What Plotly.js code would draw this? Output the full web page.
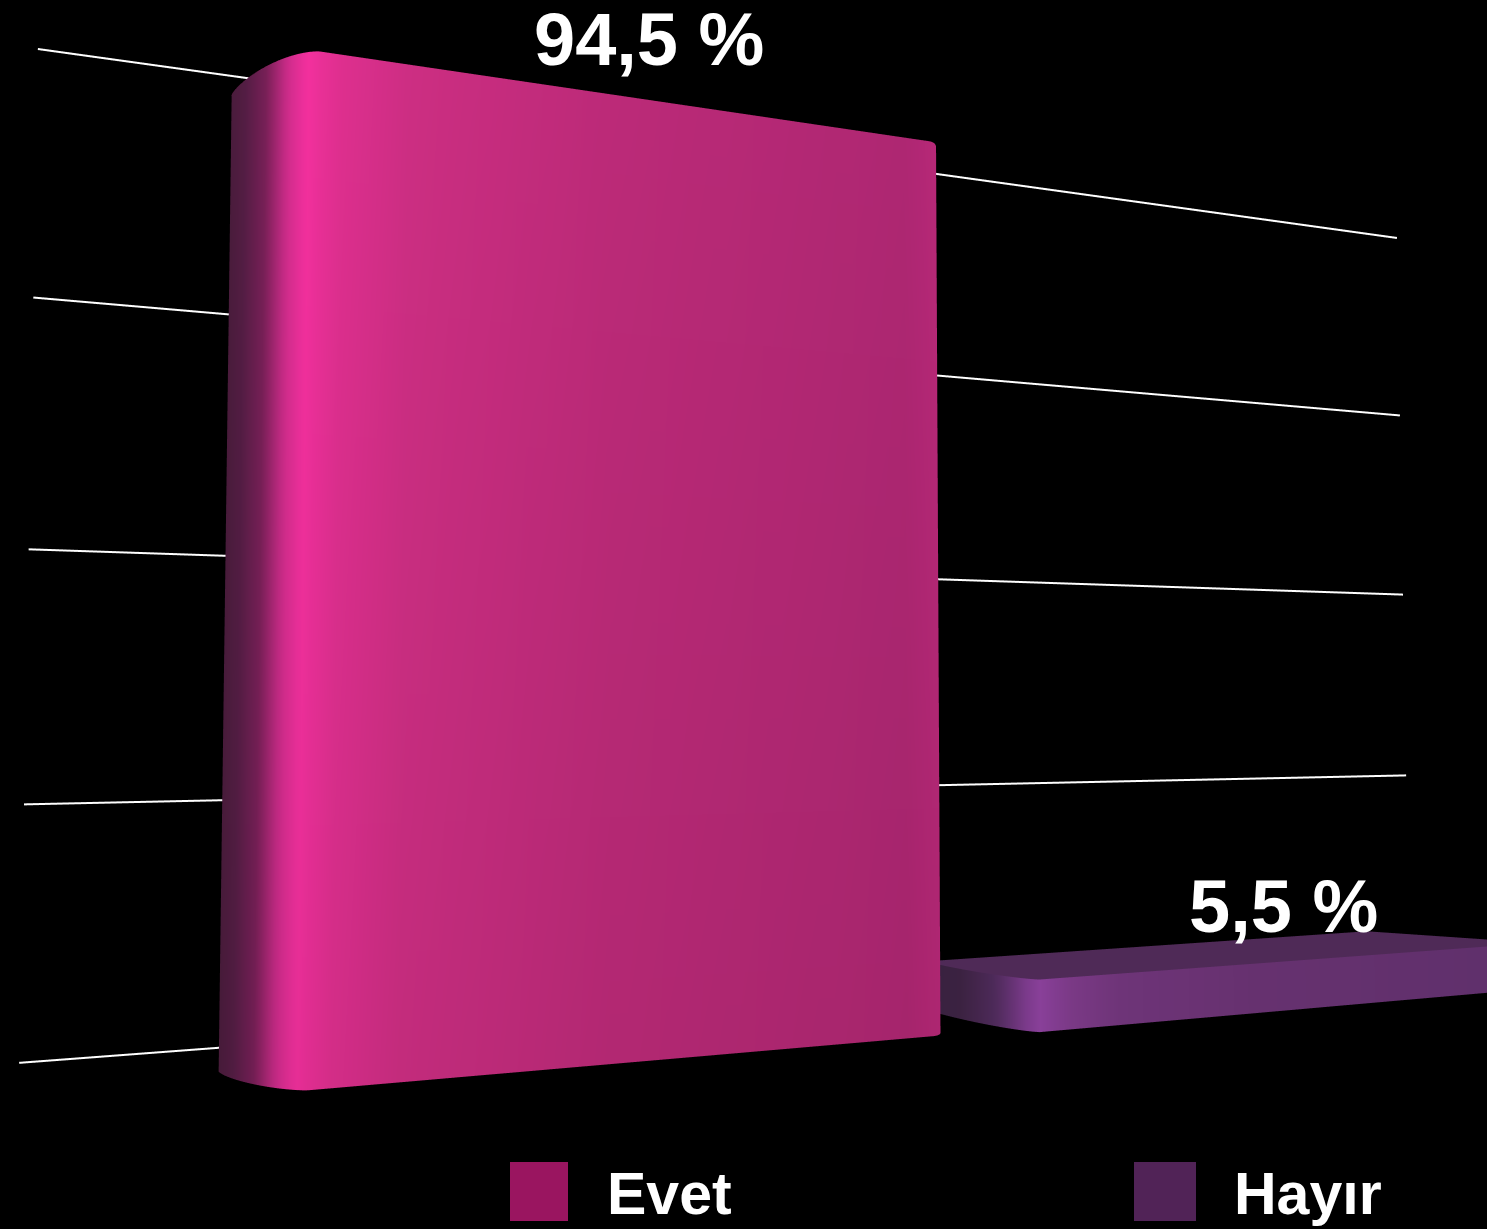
<!DOCTYPE html>
<html><head><meta charset="utf-8">
<script src="https://cdn.plot.ly/plotly-3.0.1.min.js"></script>
<style>html,body{margin:0;padding:0;background:#000;overflow:hidden;height:1229px}#c{width:1487px;height:1297px}</style>
</head><body><div id="c"></div>
<script>
const categories = ["Evet", "Hayır"];
const values = [94.5, 5.5];
const gridTicks = [0, 25, 50, 75, 100];
const legendColors = ["#9a1560", "#512357"];

// Layout of the bars on the floor of the 3D box
const barLeft = [0.184, 0.945], barRight = [0.914, 1.68], backRight = [0.86, 1.58];
const yFront = [-0.204, -0.226], yBack = [-0.1026, -0.08];
const cornerLeft = [0.075, 0.06], cornerRight = [0.025, 0.03], cornerRightY = [0.06, 0.03];
const heightScale = 1.007, cornerPower = 1.4, backCornerDrop = 0.013;
const gridStart = 0.003, gridEnd = 1.7272;

// Shading across the width of a bar
const shadeAt = [0, 0.012, 0.03, 0.048, 0.064, 0.087, 0.16, 0.35, 0.675, 0.72, 3];
const shades = [
  ["#4a1c3c","#541d44","#7a2058","#d02c8c","#f4309e","#e02f90","#cc2e82","#bc2a78","#ae2772","#b82878","#b82878"],
  ["#38223f","#3b2241","#4e2a5a","#7a3a8a","#8e429e","#7c3a88","#6e3478","#66316f","#60306c","#66316f","#66316f"]
];
const topColor = ["#c02a7c", "#4f2a57"];

function rgb(h){return [1,3,5].map(i=>parseInt(h.substr(i,2),16));}
function shade(b,dx,f){
  const s=shades[b]; let i=0;
  while(i<shadeAt.length-2 && dx>shadeAt[i+1]) i++;
  const t=Math.max(0,Math.min(1,(dx-shadeAt[i])/(shadeAt[i+1]-shadeAt[i])));
  const a=rgb(s[i]),c=rgb(s[i+1]);
  return "rgb("+a.map((v,k)=>Math.round((v+(c[k]-v)*t)*f)).join(",")+")";
}
function footprint(b){
  const x0=barLeft[b],x1=barRight[b],yf=yFront[b],yb=yBack[b],ry=yb-yf,cl=cornerLeft[b],cr=cornerRight[b],cy=cornerRightY[b],p=[],N=20,e=2/cornerPower;
  for(let a=0;a<=N;a++){const t=a/N*Math.PI/2;p.push([x0+cl*(1-Math.pow(Math.cos(t),e)),yb-ry*Math.pow(Math.sin(t),e)]);}
  for(let x=x0+cl+0.02;x<x1-cr;x+=0.02)p.push([x,yf]);
  for(let a=0;a<=N;a++){const t=a/N*Math.PI/2;p.push([x1-cr*(1-Math.sin(t)),yf+cy*(1-Math.cos(t))]);}
  p.push([backRight[b],yb]);
  return p;
}
function topHeight(b,x){
  const u=Math.max(0,1-(x-barLeft[b])/cornerLeft[b]);
  return values[b]*heightScale*(1-backCornerDrop*u*u);
}
function barTrace(b){
  const fp=footprint(b),n=fp.length,x=[],y=[],z=[],c=[],I=[],J=[],K=[];
  const rings=[0,0.5,1];
  rings.forEach(r=>{
    const f=b==0?0.95+0.05*r:1;
    fp.forEach(p=>{x.push(p[0]);y.push(p[1]);z.push(topHeight(b,p[0])*r);c.push(shade(b,p[0]-barLeft[b],f));});
  });
  for(let r=0;r<rings.length-1;r++)for(let i=0;i<n;i++){
    const a=r*n+i,d=r*n+(i+1)%n,e=(r+1)*n+i,g=(r+1)*n+(i+1)%n;
    I.push(a,d);J.push(d,g);K.push(e,e);
  }
  const base=x.length;
  fp.forEach(p=>{x.push(p[0]);y.push(p[1]);z.push(topHeight(b,p[0]));c.push(topColor[b]);});
  for(let i=1;i<n-1;i++){I.push(base);J.push(base+i);K.push(base+i+1);}
  return {type:"mesh3d",x,y,z,i:I,j:J,k:K,vertexcolor:c,name:categories[b],hoverinfo:"skip",showscale:false,
    lighting:{ambient:1,diffuse:0,specular:0,roughness:1,fresnel:0},flatshading:false};
}
const gridTraces = gridTicks.map(t=>({type:"scatter3d",mode:"lines",x:[gridStart,gridEnd],y:[0,0],z:[t,t],
  line:{color:"#ffffff",width:4},hoverinfo:"skip",showlegend:false}));
const traces = gridTraces.concat(categories.map((_,b)=>barTrace(b)));

const fmt = v => String(v).replace(".",",")+" %";
const hidden = r => ({visible:false,range:r,autorange:false,showspikes:false});
const labelX=[0.55,1.35], labelShiftX=[25,-19], labelShiftY=[20,10];
const sceneNotes = values.map((v,b)=>({
  x:labelX[b],y:yFront[b],z:v,text:"<b>"+fmt(v)+"</b>",showarrow:false,
  font:{family:"Liberation Sans",size:74,color:"#fff"},xanchor:"center",yanchor:"bottom",
  xshift:labelShiftX[b],yshift:labelShiftY[b]
}));
const H=1297, off=34;
const px = x=>x/1487, py = y=>1-y/H;
const legendX=[[510,568],[1134,1196]], legendTextX=[605,1232];
const layout = {
  width:1487,height:H,margin:{l:0,r:0,t:0,b:0},paper_bgcolor:"#000",showlegend:false,
  scene:{
    domain:{x:[0,1],y:[off/H,1-off/H]},bgcolor:"#000",aspectmode:"manual",
    aspectratio:{x:1.9242,y:0.5,z:1.2},
    xaxis:hidden([-0.1,1.8242]),yaxis:hidden([-0.4,0.1]),zaxis:hidden([-10,110]),
    camera:{eye:{x:-0.7043,y:-1.4575,z:-0.1531},center:{x:-0.1843,y:-0.0518,z:-0.0959},up:{x:0,y:0,z:1},projection:{type:"perspective"}},
    annotations:sceneNotes
  },
  shapes:categories.map((_,b)=>({type:"rect",xref:"paper",yref:"paper",x0:px(legendX[b][0]),x1:px(legendX[b][1]),
    y0:py(1221),y1:py(1162),fillcolor:legendColors[b],line:{width:0}})),
  annotations:categories.map((t,b)=>({xref:"paper",yref:"paper",x:px(legendTextX[b]),y:py(1194),text:"<b>"+t+"</b>",
    showarrow:false,xanchor:"left",yanchor:"middle",font:{family:"Liberation Sans",size:59,color:"#fff"}}))
};
Plotly.newPlot("c",traces,layout,{displayModeBar:false});
</script></body></html>
